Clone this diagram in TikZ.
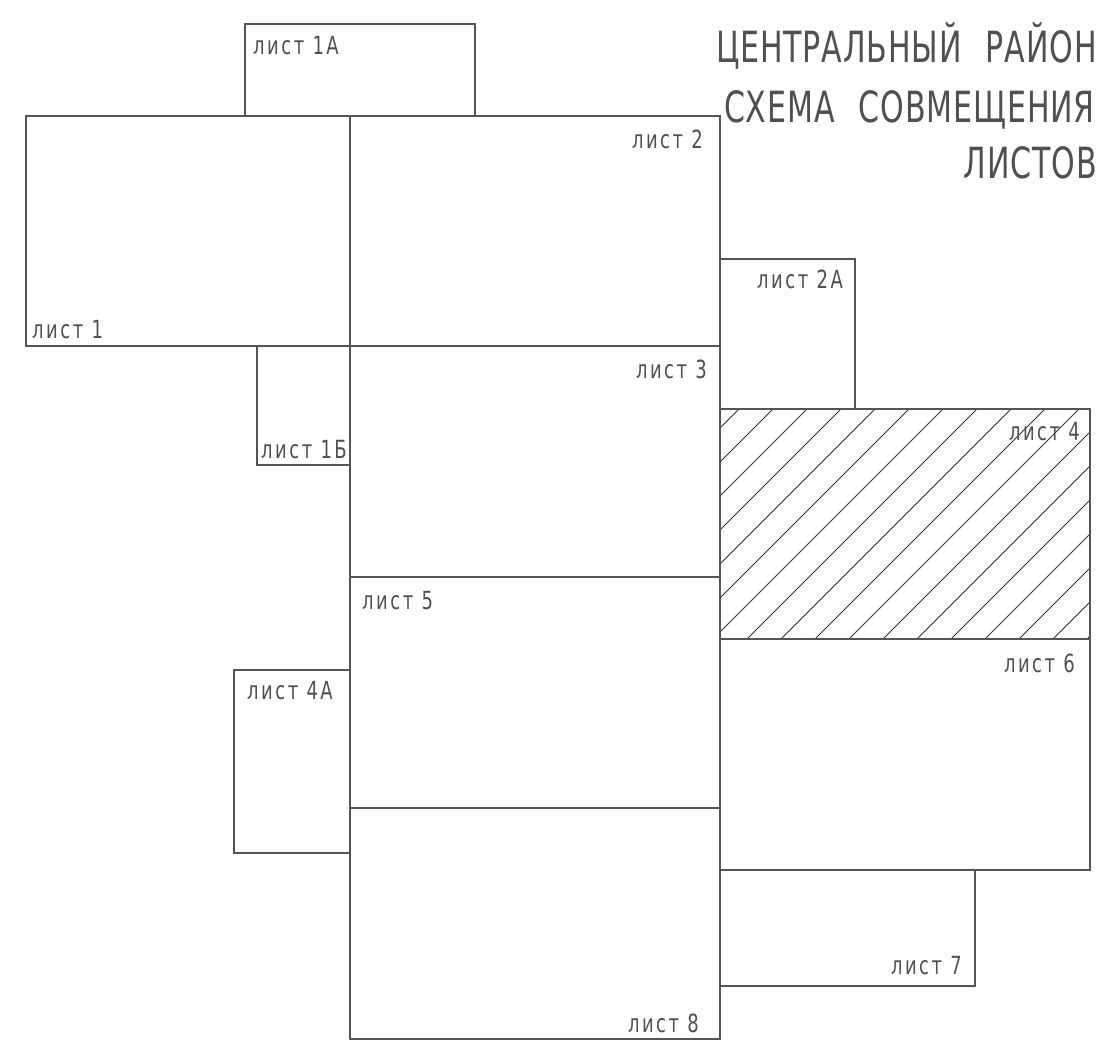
\documentclass[tikz,border=0pt]{standalone}
\usepackage{fontspec}
\newfontfamily\gosttitle[FakeStretch=0.7,LetterSpace=2]{DejaVu Sans}
\newfontfamily\gostlabel[FakeStretch=0.72,LetterSpace=10]{DejaVu Sans}
\definecolor{linegray}{HTML}{555555}
\definecolor{textgray}{HTML}{505050}
\begin{document}
\begin{tikzpicture}[x=1pt,y=-1pt,
  sheet/.style={draw=linegray,line width=1.5pt},
  hatchline/.style={draw=black!80,line width=0.9pt},
  lblL/.style={anchor=base west,inner sep=0pt,text=textgray,font=\gostlabel\fontsize{25}{29}\selectfont},
  lblR/.style={anchor=base east,inner sep=0pt,text=textgray,font=\gostlabel\fontsize{25}{29}\selectfont},
  title/.style={anchor=base east,inner sep=0pt,text=textgray,font=\gosttitle\fontsize{43}{50}\selectfont}]
\useasboundingbox (0,0) rectangle (1115,1057);
% hatching of sheet 4
\begin{scope}
  \clip (720,409) rectangle (1090,639);
  \foreach \c in {1114,1148,...,1760} {
    \draw[hatchline] (\c-400,400) -- (\c-650,650);
  }
\end{scope}
% sheets
\draw[sheet] (245,24) rectangle (475,116);   % 1A
\draw[sheet] (26,116) rectangle (350,346);   % 1
\draw[sheet] (350,116) rectangle (720,346);  % 2
\draw[sheet] (720,259) rectangle (855,409);  % 2A
\draw[sheet] (350,346) rectangle (720,577);  % 3
\draw[sheet] (257,346) rectangle (350,465);  % 1B
\draw[sheet] (720,409) rectangle (1090,639); % 4
\draw[sheet] (350,577) rectangle (720,808);  % 5
\draw[sheet] (234,670) rectangle (350,853);  % 4A
\draw[sheet] (720,639) rectangle (1090,870); % 6
\draw[sheet] (350,808) rectangle (720,1039); % 8
\draw[sheet] (720,870) rectangle (975,986);  % 7
% labels
\node[lblL] (l1a) at (253,55) {лист 1А};
\node[lblR] (l2) at (703,148) {лист 2};
\node[lblL] (l1) at (32,338) {лист 1};
\node[lblR] (l2a) at (843,288) {лист 2А};
\node[lblR] (l3) at (707,378) {лист 3};
\node[lblR] (l1b) at (347,458) {лист 1Б};
\node[lblR] (l4) at (1080,440) {лист 4};
\node[lblL] (l5) at (362,609) {лист 5};
\node[lblL] (l4a) at (247,699) {лист 4А};
\node[lblR] (l6) at (1075,672) {лист 6};
\node[lblR] (l7) at (962,974) {лист 7};
\node[lblR] (l8) at (699,1032) {лист 8};
% title
\node[title] (t1) at (1097,63) {ЦЕНТРАЛЬНЫЙ\hspace{24pt}РАЙОН};
\node[title] (t2) at (1095,122) {СХЕМА\hspace{24pt}СОВМЕЩЕНИЯ};
\node[title] (t3) at (1097,178) {ЛИСТОВ};
\end{tikzpicture}
\end{document}
